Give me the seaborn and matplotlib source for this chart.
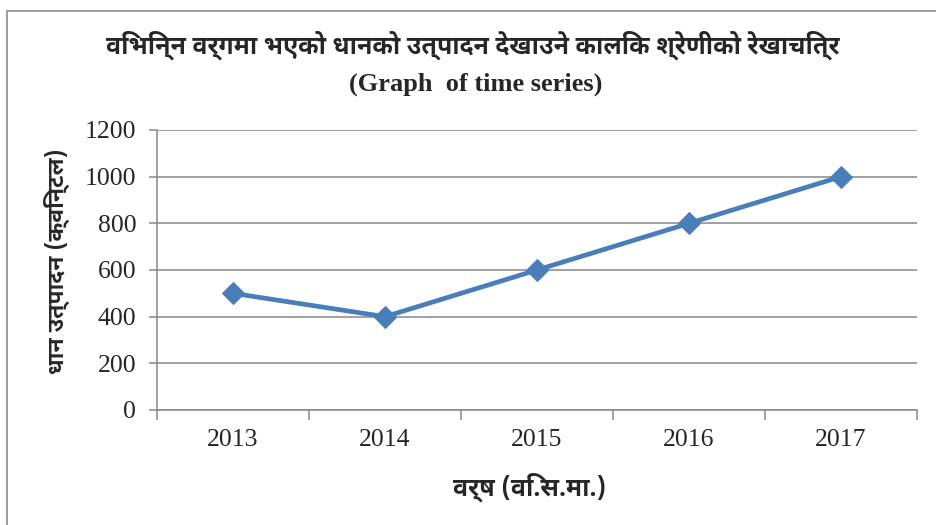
import matplotlib
matplotlib.use("Agg")
import matplotlib.pyplot as plt
from matplotlib.patches import Rectangle
from matplotlib.ticker import FixedLocator, MultipleLocator
import pandas as pd
import seaborn as sns

# data
years = ["2013", "2014", "2015", "2016", "2017"]
production = [500, 400, 600, 800, 1000]

title_np = "विभिन्न वर्गमा भएको धानको उत्पादन देखाउने कालिक श्रेणीको रेखाचित्र"
title_en = "(Graph  of time series)"
xlabel = "वर्ष (वि.स.मा.)"
ylabel = "धान उत्पादन (क्विन्टल)"

LINE_COLOR = "#4A7EBB"
GRID_COLOR = "#878787"
DEVA = ["Noto Sans Devanagari UI", "Liberation Serif", "DejaVu Sans"]

sns.set_theme(style="white")
plt.rcParams["font.family"] = ["Liberation Serif", "DejaVu Serif"]

df = pd.DataFrame({"year": years, "production": production})

fig = plt.figure(figsize=(9.36, 5.25), dpi=100)
ax = fig.add_axes([157 / 936, 1 - 410 / 525, (917 - 157) / 936, 280 / 525])

sns.lineplot(
    data=df, x="year", y="production", ax=ax,
    color=LINE_COLOR, linewidth=3.4,
    marker="D", markersize=11, markeredgecolor=LINE_COLOR,
)

ax.set_xlim(-0.5, len(years) - 0.5)
ax.set_ylim(0, 1200)
ax.yaxis.set_major_locator(MultipleLocator(200))
ax.grid(axis="y", color=GRID_COLOR, linewidth=1.1)
ax.grid(axis="x", visible=False)

# category boundaries carry the tick marks, labels sit in between
ax.xaxis.set_minor_locator(FixedLocator([i - 0.5 for i in range(len(years) + 1)]))
ax.tick_params(axis="x", which="major", length=0, pad=14, labelsize=18.5)
ax.tick_params(axis="x", which="minor", length=7, width=1.1, color=GRID_COLOR, bottom=True, direction="out")
ax.tick_params(axis="y", length=6, width=1.1, color=GRID_COLOR, left=True, direction="out", labelsize=18.5, pad=9)

for side in ["top", "right"]:
    ax.spines[side].set_visible(False)
for side in ["left", "bottom"]:
    ax.spines[side].set_color(GRID_COLOR)
    ax.spines[side].set_linewidth(1.1)

ax.set_xlabel("")
ax.set_ylabel("")

fig.text(473 / 936, 1 - 45 / 525, title_np, ha="center", va="center",
         fontsize=18, fontweight="bold", family=DEVA)
fig.text(476 / 936, 1 - 84 / 525, title_en, ha="center", va="center",
         fontsize=19, fontweight="bold")
fig.text(530 / 936, 1 - 487 / 525, xlabel, ha="center", va="center",
         fontsize=18, fontweight="bold", family=DEVA)
fig.text(57 / 936, 1 - 261 / 525, ylabel, ha="center", va="center",
         rotation=90, fontsize=16.5, fontweight="bold", family=DEVA)

# outer chart-area frame
fig.patches.append(Rectangle((7 / 936, -0.2), 1.2, 1.2 - 11 / 525,
                             transform=fig.transFigure, fill=False,
                             edgecolor="#8c8c8c", linewidth=1.2))

fig.savefig("out.png", dpi=100)
plt.close(fig)
